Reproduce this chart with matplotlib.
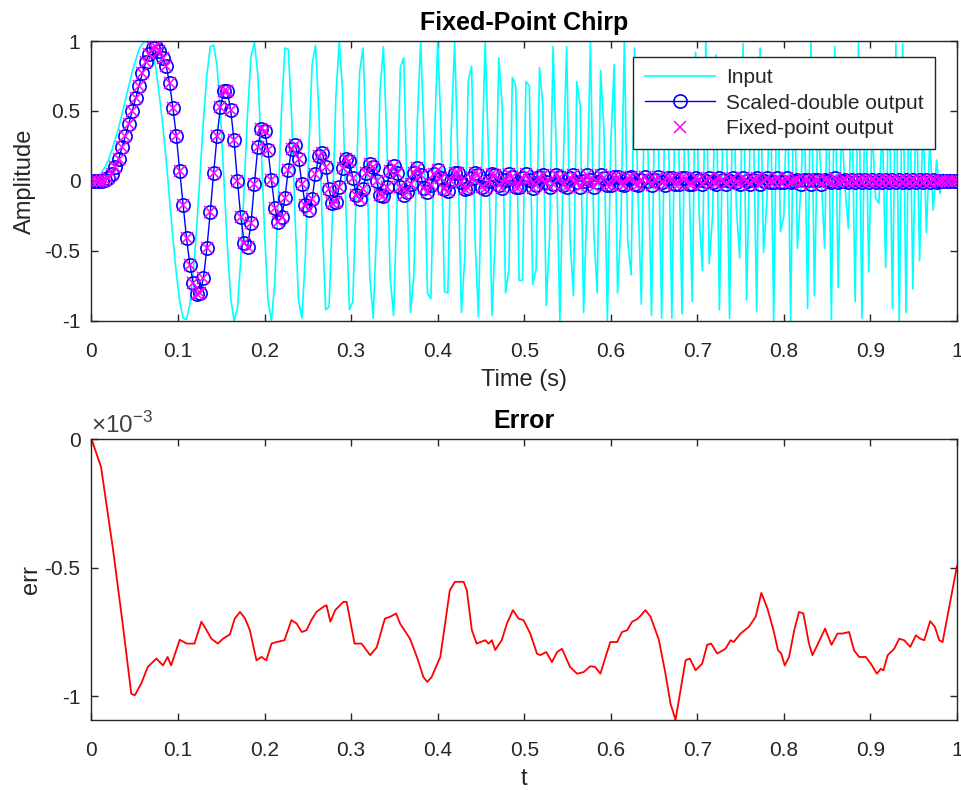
import numpy as np
import matplotlib
matplotlib.use("Agg")
from matplotlib import pyplot as plt

# chirp input, 256 samples over 1 s
x_in = [
    0.00, 0.01, 0.02, 0.06, 0.10, 0.15, 0.22, 0.30, 0.38, 0.48, 0.58, 0.68, 0.78, 0.86, 0.94, 0.98,
    1.00, 0.98, 0.92, 0.80, 0.61, 0.40, 0.15, -0.13, -0.41, -0.66, -0.86, -0.98, -0.99, -0.88, -0.65, -0.33,
    0.05, 0.44, 0.76, 0.96, 0.97, 0.82, 0.48, 0.02, -0.45, -0.83, -1.00, -0.91, -0.55, -0.04, 0.49, 0.89,
    0.99, 0.76, 0.25, -0.37, -0.85, -1.00, -0.73, -0.14, 0.51, 0.95, 0.94, 0.44, -0.27, -0.85, -0.98, -0.55,
    0.20, 0.83, 0.97, 0.49, -0.31, -0.92, -0.90, -0.24, 0.60, 1.00, 0.63, -0.22, -0.92, -0.86, -0.07, 0.78,
    0.95, 0.26, -0.68, -0.98, -0.34, 0.64, 0.96, 0.31, -0.69, -0.96, -0.17, 0.81, 0.88, -0.08, -0.94, -0.67,
    0.43, 1.00, 0.29, -0.80, -0.84, 0.25, 1.00, 0.36, -0.79, -0.80, 0.36, 0.99, 0.12, -0.94, -0.54, 0.71,
    0.82, -0.41, -0.97, 0.10, 1.00, 0.17, -0.96, -0.38, 0.88, 0.54, -0.80, -0.63, 0.74, 0.68, -0.71, -0.71,
    0.71, 0.68, -0.74, -0.63, 0.81, 0.54, -0.89, -0.38, 0.96, 0.17, -1.00, 0.10, 0.96, -0.41, -0.82, 0.71,
    0.54, -0.94, -0.13, 0.99, -0.36, -0.80, 0.79, 0.36, -1.00, 0.25, 0.83, -0.80, -0.29, 1.00, -0.43, -0.67,
    0.95, -0.08, -0.88, 0.81, 0.18, -0.96, 0.69, 0.31, -0.98, 0.64, 0.34, -0.98, 0.68, 0.27, -0.95, 0.78,
    0.08, -0.86, 0.92, -0.22, -0.64, 1.00, -0.59, -0.24, 0.90, -0.92, 0.31, 0.50, -0.98, 0.83, -0.19, -0.55,
    0.98, -0.85, 0.26, 0.46, -0.93, 0.95, -0.51, -0.15, 0.74, -1.00, 0.84, -0.36, -0.25, 0.76, -1.00, 0.88,
    -0.48, -0.05, 0.57, -0.91, 0.99, -0.82, 0.44, 0.03, -0.48, 0.82, -0.99, 0.96, -0.76, 0.43, -0.04, -0.34,
    0.67, -0.86, 0.99, -0.98, 0.85, -0.65, 0.40, -0.12, -0.16, 0.41, -0.62, 0.80, -0.91, 0.98, -1.00, 0.98,
    -0.94, 0.86, -0.77, 0.68, -0.57, 0.47, -0.37, 0.29, -0.21, 0.15, -0.09, 0.05, -0.02, 0.00, 0.01, 0.00,
]

# filter output (scaled double)
y_dbl = [
    0.00, 0.00, 0.00, 0.00, 0.01, 0.02, 0.05, 0.10, 0.16, 0.24, 0.32, 0.41, 0.50, 0.59, 0.68, 0.77,
    0.85, 0.91, 0.95, 0.96, 0.93, 0.88, 0.82, 0.70, 0.52, 0.32, 0.07, -0.17, -0.41, -0.60, -0.73, -0.81,
    -0.80, -0.69, -0.48, -0.22, 0.06, 0.32, 0.53, 0.64, 0.64, 0.51, 0.29, 0.00, -0.26, -0.44, -0.47, -0.30,
    -0.02, 0.24, 0.37, 0.36, 0.22, 0.01, -0.19, -0.29, -0.26, -0.12, 0.08, 0.23, 0.26, 0.16, -0.02, -0.17,
    -0.21, -0.13, 0.05, 0.18, 0.20, 0.10, -0.06, -0.16, -0.15, -0.04, 0.09, 0.16, 0.14, 0.02, -0.10, -0.13,
    -0.06, 0.06, 0.12, 0.10, 0.00, -0.10, -0.11, -0.04, 0.07, 0.11, 0.06, -0.04, -0.10, -0.08, -0.02, 0.06,
    0.09, 0.04, -0.05, -0.08, -0.03, 0.05, 0.08, 0.02, -0.06, -0.07, 0.00, 0.06, 0.06, -0.01, -0.06, -0.05,
    0.02, 0.06, 0.04, -0.04, -0.06, 0.00, 0.05, 0.04, -0.03, -0.05, 0.01, 0.05, 0.03, -0.04, -0.04, 0.02,
    0.05, 0.01, -0.05, -0.03, 0.03, 0.04, -0.01, -0.04, -0.02, 0.04, 0.03, -0.03, -0.04, 0.02, 0.04, -0.01,
    -0.04, 0.00, 0.04, 0.01, -0.04, -0.01, 0.04, 0.02, -0.03, -0.03, 0.03, 0.03, -0.02, -0.03, 0.02, 0.03,
    -0.02, -0.03, 0.01, 0.03, 0.00, -0.03, 0.01, 0.03, -0.01, -0.03, 0.02, 0.02, -0.02, -0.02, 0.02, 0.02,
    -0.02, -0.02, 0.02, 0.01, -0.02, 0.00, 0.02, -0.01, -0.02, 0.02, 0.01, -0.02, 0.00, 0.02, -0.01, -0.02,
    0.02, 0.00, -0.02, 0.01, 0.02, -0.02, 0.00, 0.02, -0.01, -0.01, 0.02, -0.01, -0.01, 0.02, -0.01, 0.00,
    0.01, -0.02, 0.01, 0.01, -0.02, 0.01, 0.01, -0.02, 0.01, 0.00, -0.01, 0.02, -0.01, 0.00, 0.01, -0.01,
    0.01, -0.01, 0.01, -0.01, 0.01, -0.01, 0.01, -0.01, 0.01, -0.01, 0.01, -0.01, 0.01, -0.01, 0.01, -0.01,
    0.01, -0.01, 0.01, -0.01, 0.01, -0.01, 0.01, -0.01, 0.01, -0.01, 0.00, 0.00, 0.00, 0.00, 0.00, 0.00,
]
# fixed-point output sits on top of the double output (difference ~1e-3, see Error)
y_fix = y_dbl

# error trace, err in units of 1e-3
err_t = [0, 0.011, 0.025, 0.036, 0.046, 0.050, 0.0575, 0.065, 0.075, 0.0826, 0.088, 0.092,
         0.102, 0.11, 0.119, 0.127, 0.133, 0.1385, 0.146, 0.152, 0.16, 0.1655, 0.1716, 0.1775,
         0.183, 0.1906, 0.1964, 0.202, 0.208, 0.214, 0.223, 0.231, 0.237, 0.243, 0.2485, 0.254,
         0.26, 0.268, 0.2716, 0.276, 0.2816, 0.291, 0.2948, 0.304, 0.312, 0.322, 0.3295, 0.339,
         0.345, 0.352, 0.3565, 0.368, 0.376, 0.3835, 0.388, 0.393, 0.403, 0.4086, 0.414, 0.42,
         0.43, 0.4337, 0.4395, 0.445, 0.455, 0.4587, 0.4626, 0.4664, 0.474, 0.48, 0.487, 0.4934,
         0.4992, 0.507, 0.5147, 0.5185, 0.5255, 0.532, 0.538, 0.5436, 0.553, 0.561, 0.5686, 0.5764,
         0.582, 0.588, 0.594, 0.5995, 0.6073, 0.613, 0.619, 0.6247, 0.6305, 0.635, 0.64, 0.646,
         0.6555, 0.6632, 0.669, 0.6748, 0.6806, 0.6864, 0.6914, 0.698, 0.7056, 0.7114, 0.716, 0.723,
         0.7326, 0.7384, 0.742, 0.75, 0.7596, 0.7674, 0.774, 0.781, 0.788, 0.7932, 0.797, 0.801,
         0.806, 0.812, 0.8175, 0.8225, 0.829, 0.833, 0.8388, 0.8476, 0.855, 0.862, 0.8677, 0.8754,
         0.881, 0.887, 0.8947, 0.9005, 0.9074, 0.912, 0.915, 0.92, 0.9275, 0.9333, 0.939, 0.946,
         0.9525, 0.9575, 0.9622, 0.969, 0.9745, 0.9795, 0.9834, 1.0]
err_v = [0, -0.108, -0.432, -0.717, -0.99, -0.996, -0.95, -0.886, -0.853, -0.88, -0.847, -0.88,
         -0.78, -0.795, -0.795, -0.71, -0.743, -0.776, -0.795, -0.776, -0.759, -0.698, -0.672, -0.698,
         -0.743, -0.86, -0.847, -0.86, -0.795, -0.789, -0.782, -0.704, -0.717, -0.75, -0.743, -0.704,
         -0.672, -0.652, -0.646, -0.71, -0.665, -0.633, -0.633, -0.795, -0.795, -0.84, -0.81, -0.698,
         -0.691, -0.678, -0.717, -0.776, -0.847, -0.925, -0.944, -0.925, -0.847, -0.717, -0.588, -0.555,
         -0.555, -0.588, -0.743, -0.795, -0.782, -0.795, -0.782, -0.82, -0.782, -0.717, -0.665, -0.698,
         -0.704, -0.756, -0.834, -0.84, -0.828, -0.867, -0.828, -0.815, -0.886, -0.912, -0.906, -0.883,
         -0.886, -0.912, -0.847, -0.789, -0.789, -0.75, -0.743, -0.71, -0.70, -0.685, -0.665, -0.691,
         -0.78, -0.912, -1.028, -1.092, -0.977, -0.86, -0.853, -0.899, -0.873, -0.80, -0.795, -0.834,
         -0.815, -0.782, -0.789, -0.756, -0.73, -0.691, -0.598, -0.659, -0.743, -0.821, -0.834, -0.88,
         -0.847, -0.743, -0.672, -0.678, -0.795, -0.84, -0.80, -0.737, -0.80, -0.756, -0.756, -0.75,
         -0.821, -0.847, -0.847, -0.873, -0.912, -0.893, -0.899, -0.84, -0.815, -0.776, -0.782, -0.808,
         -0.763, -0.776, -0.782, -0.708, -0.73, -0.782, -0.789, -0.494]

xticks = [0, 0.1, 0.2, 0.3, 0.4, 0.5, 0.6, 0.7, 0.8, 0.9, 1]
xticklabels = ["0", "0.1", "0.2", "0.3", "0.4", "0.5", "0.6", "0.7", "0.8", "0.9", "1"]

plt.rcParams['font.family'] = ['Liberation Sans', 'DejaVu Sans']
plt.rcParams['axes.unicode_minus'] = False
plt.rcParams['mathtext.fontset'] = 'custom'
plt.rcParams['mathtext.rm'] = 'Liberation Sans'

axcol = '#262626'
t = np.linspace(0, 1, len(x_in))


def matlab_style(ax):
    for s in ax.spines.values():
        s.set_color(axcol)
        s.set_linewidth(1.0)
    ax.tick_params(direction='in', length=5, width=1.0, colors=axcol,
                   labelsize=15, top=True, right=True)
    ax.tick_params(axis='x', pad=15)
    ax.tick_params(axis='y', pad=8)
    ax.set_xlim(0, 1)
    ax.set_xticks(xticks)
    ax.set_xticklabels(xticklabels)


fig = plt.figure(figsize=(9.61, 7.90), dpi=100)
ax1 = fig.add_axes([0.0952, 0.5937, 0.9006, 0.3544])
ax2 = fig.add_axes([0.0952, 0.0886, 0.9006, 0.3557])

ax1.plot(t, x_in, color='#00FFFF', lw=1.2, label='Input')
ax1.plot(t, y_dbl, '-o', color='#0000FF', mfc='none', ms=9.5, mew=1.2, lw=1.0,
         label='Scaled-double output')
ax1.plot(t, y_fix, 'x', color='#FF00FF', ms=8, mew=1.1, ls='none',
         label='Fixed-point output')
matlab_style(ax1)
ax1.set_ylim(-1, 1)
ax1.set_yticks([-1, -0.5, 0, 0.5, 1])
ax1.set_yticklabels(["-1", "-0.5", "0", "0.5", "1"])
ax1.set_title('Fixed-Point Chirp', fontsize=18, fontweight='bold', color='black', pad=8)
ax1.set_xlabel('Time (s)', fontsize=17, color=axcol, labelpad=6)
ax1.set_ylabel('Amplitude', fontsize=17, color=axcol, labelpad=6)
leg = ax1.legend(loc='upper right', bbox_to_anchor=(0.9746, 0.943), borderaxespad=0,
                 fontsize=15, fancybox=False, framealpha=1, edgecolor=axcol,
                 handlelength=3.4, labelspacing=0.3, borderpad=0.55, handletextpad=0.5)
leg.get_frame().set_linewidth(1.0)
for txt in leg.get_texts():
    txt.set_color(axcol)

ax2.plot(err_t, err_v, color='#FF0000', lw=1.3)
matlab_style(ax2)
ax2.set_ylim(min(err_v), max(err_v))
ax2.set_yticks([-1, -0.5, 0])
ax2.set_yticklabels(["-1", "-0.5", "0"])
ax2.set_title('Error', fontsize=18, fontweight='bold', color='black', pad=8)
ax2.set_xlabel('t', fontsize=17, color=axcol, labelpad=6)
ax2.set_ylabel('err', fontsize=17, color=axcol, labelpad=2)
ax2.text(0.0, 1.005, r'$\times10^{-3}$', transform=ax2.transAxes, ha='left', va='bottom',
         fontsize=17.5, color='#404040')

fig.savefig('out.png', dpi=100, facecolor='white')
